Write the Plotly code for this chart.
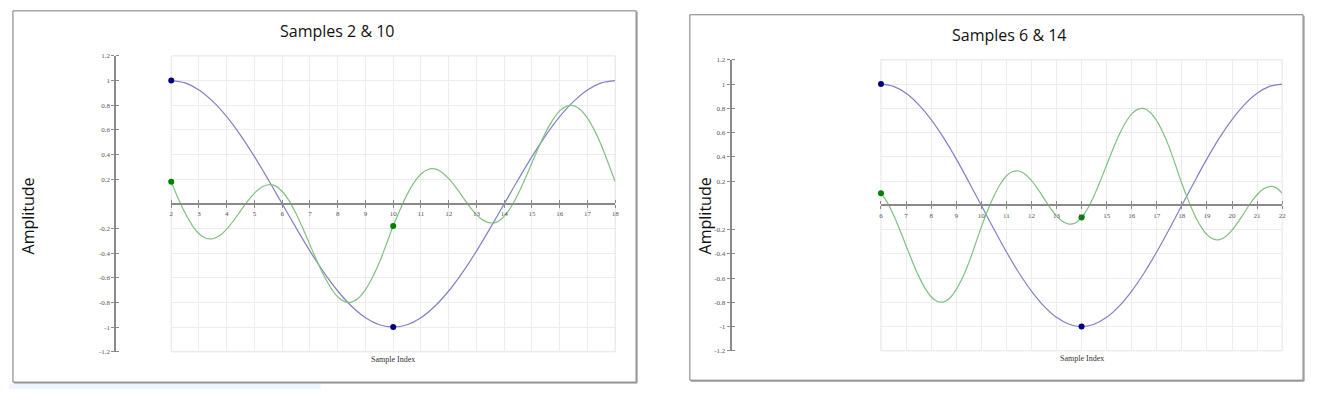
import numpy as np
import plotly.graph_objects as go

W, H = 1318, 393

# ---------------- data ----------------
x_blue_left = list(np.arange(2, 18.01, 0.5))
x_blue_right = list(np.arange(6, 22.01, 0.5))
x_green_left = list(np.arange(2, 18.01, 0.25))
x_green_right = list(np.arange(6, 22.01, 0.25))

blue_left = [1, 0.981, 0.924, 0.831, 0.707, 0.556, 0.383, 0.195, 0,
             -0.195, -0.383, -0.556, -0.707, -0.831, -0.924, -0.981, -1,
             -0.981, -0.924, -0.831, -0.707, -0.556, -0.383, -0.195, 0,
             0.195, 0.383, 0.556, 0.707, 0.831, 0.924, 0.981, 1]
blue_right = [1, 0.981, 0.924, 0.831, 0.707, 0.556, 0.383, 0.195, 0,
              -0.195, -0.383, -0.556, -0.707, -0.831, -0.924, -0.981, -1,
              -0.981, -0.924, -0.831, -0.707, -0.556, -0.383, -0.195, 0,
              0.195, 0.383, 0.556, 0.707, 0.831, 0.924, 0.981, 1]

green_left = [0.18, 0.045, -0.075, -0.172, -0.242, -0.279, -0.283, -0.257,
              -0.205, -0.136, -0.057, 0.021, 0.087, 0.134, 0.155, 0.146,
              0.10, 0.024, -0.080, -0.202, -0.333, -0.463, -0.582, -0.681,
              -0.754, -0.793, -0.797, -0.764, -0.696, -0.598, -0.476, -0.33,
              -0.18, -0.045, 0.075, 0.172, 0.242, 0.279, 0.283, 0.257,
              0.205, 0.136, 0.057, -0.021, -0.087, -0.134, -0.155, -0.146,
              -0.10, -0.024, 0.080, 0.202, 0.333, 0.463, 0.582, 0.681,
              0.754, 0.793, 0.797, 0.764, 0.696, 0.598, 0.476, 0.33, 0.18]
green_right = [0.10, 0.024, -0.080, -0.202, -0.333, -0.463, -0.582, -0.681,
               -0.754, -0.793, -0.797, -0.764, -0.696, -0.598, -0.476, -0.33,
               -0.18, -0.045, 0.075, 0.172, 0.242, 0.279, 0.283, 0.257,
               0.205, 0.136, 0.057, -0.021, -0.087, -0.134, -0.155, -0.146,
               -0.10, -0.024, 0.080, 0.202, 0.333, 0.463, 0.582, 0.681,
               0.754, 0.793, 0.797, 0.764, 0.696, 0.598, 0.476, 0.33,
               0.18, 0.045, -0.075, -0.172, -0.242, -0.279, -0.283, -0.257,
               -0.205, -0.136, -0.057, 0.021, 0.087, 0.134, 0.155, 0.146, 0.10]

left_samples_x = [2, 10]
left_blue_pts = [1, -1]
left_green_pts = [0.18, -0.18]
right_samples_x = [6, 14]
right_blue_pts = [1, -1]
right_green_pts = [0.10, -0.10]

titles = ["Samples 2 & 10", "Samples 6 & 14"]
y_tickvals = [-1.2, -1, -0.8, -0.6, -0.4, -0.2, 0.2, 0.4, 0.6, 0.8, 1, 1.2]
y_ticktext = ["-1.2", "-1", "-0.8", "-0.6", "-0.4", "-0.2", "0.2", "0.4", "0.6", "0.8", "1", "1.2"]
x_ticks_left = list(range(2, 19))
x_ticks_right = list(range(6, 23))

# ---------------- style ----------------
BLUE_LINE = "#8080c6"
GREEN_LINE = "#80c080"
BLUE_DOT = "#00007f"
GREEN_DOT = "#007f00"
AXIS_COL = "#8a8a8a"
GRID_COL = "#ececec"
BORDER_COL = "#e2e2e2"
TICK_FONT = dict(family="Liberation Serif", size=7, color="#555")
EPS = 1e-6

def fx(px):
    return px / W

def fy(py):
    return 1 - py / H

fig = go.Figure()

panels = [
    dict(xb=x_blue_left, xg=x_green_left, blue=blue_left, green=green_left,
         sx=left_samples_x, sb=left_blue_pts, sg=left_green_pts, xr=[2, 18],
         xt=x_ticks_left, px0=170, px1=616, py0=53, py1=355, yaxis_px=114,
         xa="x", ya="y"),
    dict(xb=x_blue_right, xg=x_green_right, blue=blue_right, green=green_right,
         sx=right_samples_x, sb=right_blue_pts, sg=right_green_pts, xr=[6, 22],
         xt=x_ticks_right, px0=883, px1=1286, py0=57, py1=354, yaxis_px=732,
         xa="x2", ya="y2"),
]

shapes = []
for i, p in enumerate(panels):
    fig.add_trace(go.Scatter(x=p["xb"], y=p["blue"], mode="lines",
                             line=dict(color=BLUE_LINE, width=1.2, shape="spline"),
                             xaxis=p["xa"], yaxis=p["ya"], hoverinfo="skip"))
    fig.add_trace(go.Scatter(x=p["xg"], y=p["green"], mode="lines",
                             line=dict(color=GREEN_LINE, width=1.2, shape="spline"),
                             xaxis=p["xa"], yaxis=p["ya"], hoverinfo="skip"))
    fig.add_trace(go.Scatter(x=p["sx"], y=p["sb"], mode="markers", cliponaxis=False,
                             marker=dict(color=BLUE_DOT, size=6),
                             xaxis=p["xa"], yaxis=p["ya"]))
    fig.add_trace(go.Scatter(x=p["sx"], y=p["sg"], mode="markers", cliponaxis=False,
                             marker=dict(color=GREEN_DOT, size=6),
                             xaxis=p["xa"], yaxis=p["ya"]))

    ydom = [fy(p["py1"]), fy(p["py0"])]
    xdom = [fx(p["px0"]), fx(p["px1"])]
    suffix = "" if i == 0 else "2"
    fig.layout["xaxis" + suffix] = dict(
        domain=xdom, range=p["xr"], anchor="free", position=(ydom[0] + ydom[1]) / 2,
        tickvals=p["xt"], ticktext=[str(t) for t in p["xt"]],
        ticks="outside", ticklen=3, tickcolor=AXIS_COL, tickwidth=1,
        minor=dict(tickvals=[t + EPS for t in p["xt"]], ticks="inside", ticklen=3,
                   tickcolor=AXIS_COL, tickwidth=1, showgrid=False),
        showline=True, linecolor=AXIS_COL, linewidth=2,
        showgrid=True, gridcolor=GRID_COL, gridwidth=1, zeroline=False,
        tickfont=TICK_FONT, fixedrange=True, layer="above traces",
    )
    fig.layout["yaxis" + suffix] = dict(
        domain=ydom, range=[-1.2, 1.2], anchor="free", position=fx(p["yaxis_px"]),
        tickvals=y_tickvals, ticktext=y_ticktext,
        ticks="outside", ticklen=3, tickcolor=AXIS_COL, tickwidth=1,
        minor=dict(tickvals=[t + EPS for t in y_tickvals], ticks="inside", ticklen=3,
                   tickcolor=AXIS_COL, tickwidth=1, showgrid=False),
        showline=True, linecolor=AXIS_COL, linewidth=2,
        showgrid=True, gridcolor=GRID_COL, gridwidth=1, zeroline=False,
        tickfont=TICK_FONT, fixedrange=True,
    )
    # plot-area frame
    shapes.append(dict(type="rect", xref="paper", yref="paper",
                       x0=xdom[0], x1=xdom[1], y0=ydom[0], y1=ydom[1],
                       line=dict(color=BORDER_COL, width=1), layer="below"))

# panel borders
for (x0, y0, x1, y1) in [(11, 7, 637, 386), (691, 11, 1307, 384)]:
    shapes.append(dict(type="line", xref="paper", yref="paper",
                       x0=fx(x1 + 1), x1=fx(x1 + 1), y0=fy(y0 + 1), y1=fy(y1 + 1),
                       line=dict(color="#b0b0b0", width=1.5)))
    shapes.append(dict(type="line", xref="paper", yref="paper",
                       x0=fx(x0 + 1), x1=fx(x1 + 1), y0=fy(y1 + 1), y1=fy(y1 + 1),
                       line=dict(color="#b0b0b0", width=1.5)))
    shapes.append(dict(type="rect", xref="paper", yref="paper",
                       x0=fx(x0), x1=fx(x1), y0=fy(y1), y1=fy(y0),
                       line=dict(color="#7a7a7a", width=1)))
shapes.append(dict(type="rect", xref="paper", yref="paper",
                   x0=fx(7), x1=fx(320), y0=fy(393), y1=fy(388),
                   fillcolor="#eef5fc", line=dict(width=0), layer="below"))

annotations = []
for t, cx, cy in [(titles[0], 337, 28), (titles[1], 1012, 32)]:
    annotations.append(dict(text=t, x=fx(cx), y=fy(cy), xref="paper", yref="paper",
                            showarrow=False, xanchor="center", yanchor="middle",
                            font=dict(family="Open Sans", size=16, color="#111")))
for cx, cy in [(26, 216), (706, 216)]:
    annotations.append(dict(text="Amplitude", x=fx(cx), y=fy(cy), xref="paper", yref="paper",
                            showarrow=False, xanchor="center", yanchor="middle", textangle=-90,
                            font=dict(family="Open Sans", size=16, color="#111")))
for cx, cy in [(393, 363), (1085, 362)]:
    annotations.append(dict(text="Sample Index", x=fx(cx), y=fy(cy), xref="paper", yref="paper",
                            showarrow=False, xanchor="center", yanchor="middle",
                            font=dict(family="Liberation Serif", size=8, color="#333")))

fig.update_layout(
    width=W, height=H, margin=dict(l=0, r=0, t=0, b=0),
    paper_bgcolor="white", plot_bgcolor="white", showlegend=False,
    shapes=shapes, annotations=annotations,
)

fig.write_html("out.html", config={"displayModeBar": False})
